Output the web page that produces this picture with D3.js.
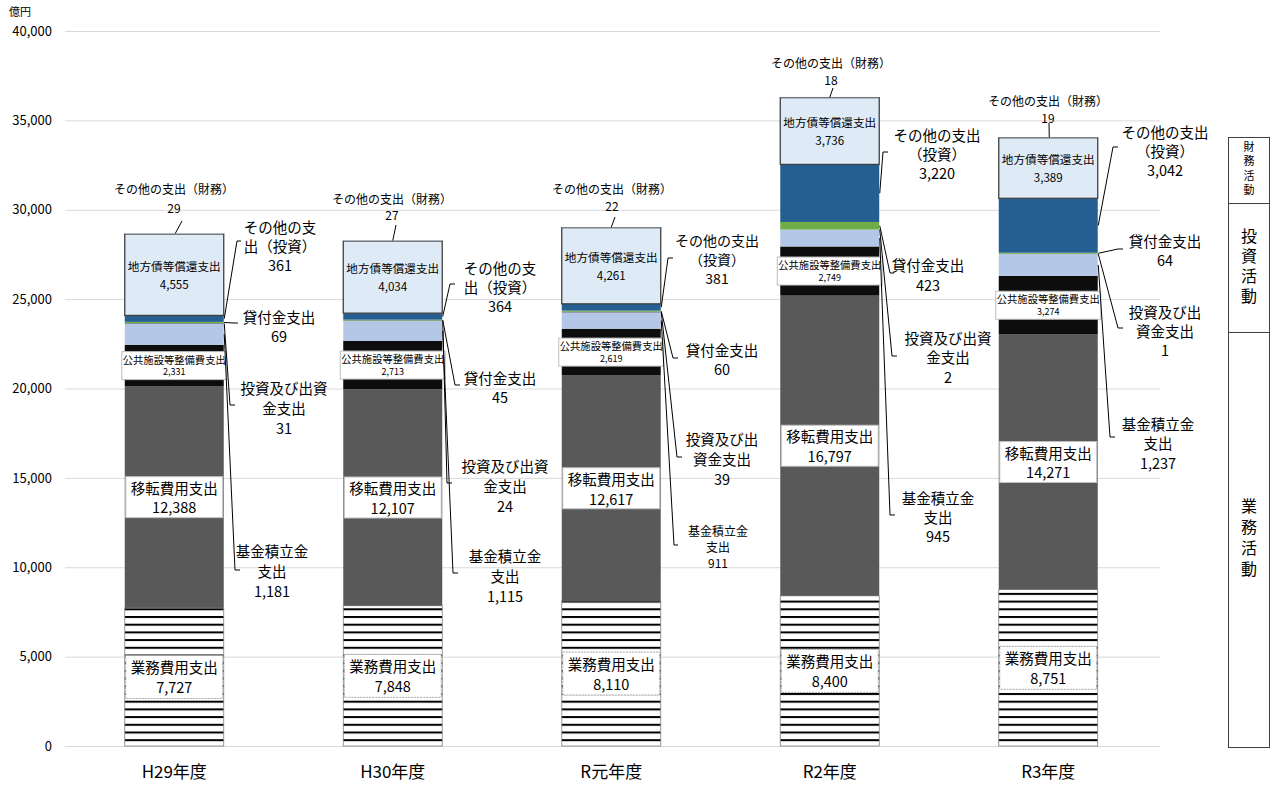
<!DOCTYPE html>
<html>
<head>
<meta charset="utf-8">
<script src="https://cdn.jsdelivr.net/npm/d3@7"></script>
<style>
  body { margin: 0; background: #fff; }
  svg { display: block; }
  text { font-family: "Noto Sans CJK JP", "Noto Sans", sans-serif; fill: #000; }
</style>
</head>
<body>
<svg id="chart" width="1274" height="787"></svg>
<script>
// ---- data (億円) ----
const years = ["H29年度", "H30年度", "R元年度", "R2年度", "R3年度"];
const gyomuHiyo        = [7727, 7848, 8110, 8400, 8751];      // 業務費用支出
const itenHiyo         = [12388, 12107, 12617, 16797, 14271]; // 移転費用支出
const koukyoShisetsu   = [2331, 2713, 2619, 2749, 3274];      // 公共施設等整備費支出
const kikinTsumitate   = [1181, 1115, 911, 945, 1237];        // 基金積立金支出
const toushiShusshi    = [31, 24, 39, 2, 1];                  // 投資及び出資金支出
const kashitsuke       = [69, 45, 60, 423, 64];               // 貸付金支出
const sonotaToushi     = [361, 364, 381, 3220, 3042];         // その他の支出（投資）
const chihousaiShoukan = [4555, 4034, 4261, 3736, 3389];      // 地方債等償還支出
const sonotaZaimu      = [29, 27, 22, 18, 19];                // その他の支出（財務）
const yTicks = [0, 5000, 10000, 15000, 20000, 25000, 30000, 35000, 40000];
const unitLabel = "億円";
const activityGroups = ["財務活動", "投資活動", "業務活動"];

// ---- series (bottom to top) ----
const series = [
  { key: "gyomu",   name: "業務費用支出",         values: gyomuHiyo,        fill: "url(#hatch)" },
  { key: "iten",    name: "移転費用支出",         values: itenHiyo,         fill: "#595959" },
  { key: "koukyo",  name: "公共施設等整備費支出", values: koukyoShisetsu,   fill: "#0d0d0d" },
  { key: "kikin",   name: "基金積立金支出",       values: kikinTsumitate,   fill: "#b4c7e7" },
  { key: "toushi",  name: "投資及び出資金支出",   values: toushiShusshi,    fill: "#404040" },
  { key: "kashi",   name: "貸付金支出",           values: kashitsuke,       fill: "#70ad47" },
  { key: "sonotaT", name: "その他の支出（投資）", values: sonotaToushi,     fill: "#255e91" },
  { key: "chihou",  name: "地方債等償還支出",     values: chihousaiShoukan, fill: "#deebf7" },
  { key: "sonotaZ", name: "その他の支出（財務）", values: sonotaZaimu,      fill: "#deebf7" }
];

const rows = years.map((yr, i) => {
  const r = { year: yr };
  series.forEach(s => { r[s.key] = s.values[i]; });
  return r;
});

const fmt = d3.format(",");
const svg = d3.select("#chart");

// ---- scales ----
const x = d3.scaleBand().domain(years).range([65, 1157.5]).paddingInner(0.547).paddingOuter(0.2735);
const y = d3.scaleLinear().domain([0, 40000]).range([746, 31]);
const bw = x.bandwidth();

// hatch for 業務費用支出
const defs = svg.append("defs");
const pat = defs.append("pattern").attr("id", "hatch")
  .attr("patternUnits", "userSpaceOnUse").attr("width", 8).attr("height", 7.7);
pat.append("rect").attr("width", 8).attr("height", 7.7).attr("fill", "#fff");
pat.append("rect").attr("y", 0).attr("width", 8).attr("height", 2).attr("fill", "#000");

// ---- grid + y axis ----
svg.append("g").selectAll("line").data(yTicks).join("line")
  .attr("x1", 65).attr("x2", 1160)
  .attr("y1", d => y(d) + 0.5).attr("y2", d => y(d) + 0.5)
  .attr("stroke", "#d9d9d9").attr("stroke-width", 1);

const yAxis = d3.axisLeft(y).tickValues(yTicks).tickFormat(fmt).tickSize(0).tickPadding(0);
const yg = svg.append("g").attr("transform", "translate(52,0)").call(yAxis);
yg.select(".domain").remove();
yg.selectAll("text").attr("font-size", 13).style("font-family", "'Noto Sans CJK JP', 'Noto Sans', sans-serif").attr("fill", "#000");

svg.append("text").attr("x", 9).attr("y", 16).attr("font-size", 11).text(unitLabel);

// ---- x axis ----
const xAxis = d3.axisBottom(x).tickSize(0).tickPadding(0);
const xg = svg.append("g").attr("transform", "translate(0,762)").call(xAxis);
xg.select(".domain").remove();
xg.selectAll("text").attr("font-size", 17).attr("dy", "0.95em")
  .style("font-family", "'Noto Sans CJK JP', 'Noto Sans', sans-serif").attr("fill", "#000");

// ---- stacked bars ----
const stack = d3.stack().keys(series.map(s => s.key))(rows);
const layers = svg.append("g").selectAll("g").data(stack).join("g")
  .attr("fill", (d, i) => series[i].fill);

layers.selectAll("rect").data(d => d.map(p => ({ p, key: d.key }))).join("rect")
  .attr("x", d => x(d.p.data.year))
  .attr("width", bw)
  .attr("y", d => y(d.p[1]))
  .attr("height", d => Math.max(0, y(d.p[0]) - y(d.p[1])))
  .attr("stroke", d => d.key === "chihou" ? "#404040" : (d.key === "gyomu" ? "#7f7f7f" : "none"))
  .attr("stroke-width", d => d.key === "chihou" ? 1.3 : 0.8);

const seg = (key, i) => {
  const layer = stack.find(l => l.key === key)[i];
  return { y0: y(layer[0]), y1: y(layer[1]), mid: (y(layer[0]) + y(layer[1])) / 2 };
};

// ---- labels inside the bars ----
const inner = svg.append("g");
function multiline(g, cx, cy, lines, sizes, lh) {
  const n = lines.length;
  lines.forEach((t, k) => {
    g.append("text").attr("x", cx).attr("y", cy + (k - (n - 1) / 2) * lh)
      .attr("text-anchor", "middle").attr("dominant-baseline", "central")
      .attr("font-size", sizes[k]).text(t);
  });
}

years.forEach((yr, i) => {
  const bx = x(yr), cx = bx + bw / 2;

  // 業務費用支出
  let s = seg("gyomu", i);
  inner.append("rect").attr("x", bx + 1).attr("y", s.mid - 21.5).attr("width", bw - 2).attr("height", 43)
    .attr("fill", "#fff").attr("stroke", "#a6a6a6").attr("stroke-dasharray", "2,1");
  multiline(inner, cx, s.mid, [series[0].name, fmt(gyomuHiyo[i])], [14.5, 14.5], 20);

  // 移転費用支出
  s = seg("iten", i);
  inner.append("rect").attr("x", bx + 1).attr("y", s.mid - 20.5).attr("width", bw - 2).attr("height", 41)
    .attr("fill", "#fff").attr("stroke", "#bfbfbf");
  multiline(inner, cx, s.mid, [series[1].name, fmt(itenHiyo[i])], [14.5, 14.5], 19.5);

  // 公共施設等整備費支出
  s = seg("koukyo", i);
  inner.append("rect").attr("x", cx - 52.5).attr("y", s.mid - 14).attr("width", 105).attr("height", 28)
    .attr("fill", "#fff").attr("stroke", "#bfbfbf");
  multiline(inner, cx, s.mid, [series[2].name, fmt(koukyoShisetsu[i])], [10.3, 9], 12.5);

  // 地方債等償還支出
  s = seg("chihou", i);
  multiline(inner, cx, s.mid, [series[7].name, fmt(chihousaiShoukan[i])], [11.6, 11.6], 18);
});

// ---- callout labels with leader lines ----
// per year: label centre x, first-line y, line spacing, font size, name break, leader tick [x1, x2, y]
const callouts = [
  { key: "sonotaT", name: "その他の支出（投資）", values: sonotaToushi, spots: [
    { cx: 280, y: 226, lh: 19, fs: 14.5, brk: 5, tick: [241, 237, 241] },
    { cx: 500, y: 267, lh: 19, fs: 14.5, brk: 5, tick: [455, 450, 284] },
    { cx: 717, y: 240, lh: 19, fs: 14, brk: 6, tick: [673, 668, 258] },
    { cx: 937, y: 134, lh: 19, fs: 14.5, brk: 6, tick: [888, 883, 152] },
    { cx: 1165, y: 131, lh: 19, fs: 14.5, brk: 6, tick: [1118, 1113, 147] } ] },
  { key: "kashi", name: "貸付金支出", values: kashitsuke, spots: [
    { cx: 279, y: 316, lh: 19, fs: 14.5, brk: 5, tick: [238, 234, 323] },
    { cx: 500, y: 377, lh: 19, fs: 14.5, brk: 5, tick: [460, 455, 385] },
    { cx: 722, y: 349, lh: 19, fs: 14.5, brk: 5, tick: [678, 673, 358] },
    { cx: 928, y: 264, lh: 20, fs: 14.5, brk: 5, tick: [894, 890, 273] },
    { cx: 1165, y: 240, lh: 19, fs: 14.5, brk: 5, tick: [1123, 1118, 249] } ] },
  { key: "toushi", name: "投資及び出資金支出", values: toushiShusshi, spots: [
    { cx: 284, y: 387, lh: 20, fs: 14.5, brk: 6, tick: [235, 230, 405] },
    { cx: 505, y: 465, lh: 20, fs: 14.5, brk: 6, tick: [452, 447, 483] },
    { cx: 722, y: 438, lh: 20, fs: 14.5, brk: 5, tick: [682, 677, 457] },
    { cx: 948, y: 337, lh: 19.5, fs: 14.5, brk: 6, tick: [897, 892, 356] },
    { cx: 1165, y: 311, lh: 19, fs: 14.5, brk: 5, tick: [1123, 1118, 328] } ] },
  { key: "kikin", name: "基金積立金支出", values: kikinTsumitate, spots: [
    { cx: 272, y: 550, lh: 20, fs: 14.5, brk: 5, tick: [240, 235, 570] },
    { cx: 505, y: 555, lh: 20, fs: 14.5, brk: 5, tick: [458, 453, 573] },
    { cx: 718, y: 530, lh: 16, fs: 12, brk: 5, tick: [678, 674, 545] },
    { cx: 938, y: 497, lh: 19, fs: 14.5, brk: 5, tick: [895, 890, 515] },
    { cx: 1158, y: 423, lh: 19.5, fs: 14.5, brk: 5, tick: [1115, 1110, 437] } ] }
];

const outer = svg.append("g");
callouts.forEach(c => {
  c.spots.forEach((sp, i) => {
    const lines = [c.name.slice(0, sp.brk), c.name.slice(sp.brk), fmt(c.values[i])].filter(t => t.length);
    lines.forEach((t, k) => {
      outer.append("text").attr("x", sp.cx).attr("y", sp.y + k * sp.lh)
        .attr("text-anchor", "middle").attr("dominant-baseline", "central")
        .attr("font-size", sp.fs).text(t);
    });
    const s = seg(c.key, i);
    const ex = x(years[i]) + bw + 0.5;
    outer.append("path")
      .attr("d", `M${sp.tick[0]},${sp.tick[2]}L${sp.tick[1]},${sp.tick[2]}L${ex},${s.mid}`)
      .attr("fill", "none").attr("stroke", "#000").attr("stroke-width", 1);
  });
});

// その他の支出（財務） above each bar
const zaimuSpots = [
  { cx: 174, y: 188, lh: 19, from: [182, 221], toDx: 1 },
  { cx: 392, y: 198, lh: 16.5, from: [396, 225], toDx: 0 },
  { cx: 612, y: 188, lh: 17, from: [615, 217], toDx: 0 },
  { cx: 831, y: 62, lh: 17, from: [833, 88], toDx: 0 },
  { cx: 1048, y: 100, lh: 17, from: [1049, 123], toDx: 1 }
];
zaimuSpots.forEach((sp, i) => {
  [series[8].name, fmt(sonotaZaimu[i])].forEach((t, k) => {
    outer.append("text").attr("x", sp.cx).attr("y", sp.y + k * sp.lh)
      .attr("text-anchor", "middle").attr("dominant-baseline", "central")
      .attr("font-size", 12).text(t);
  });
  const s = seg("sonotaZ", i);
  const tx = x(years[i]) + bw / 2 + sp.toDx;
  outer.append("path").attr("d", `M${sp.from[0]},${sp.from[1]}L${tx},${s.y1}`)
    .attr("fill", "none").attr("stroke", "#000").attr("stroke-width", 1);
});

// ---- activity bracket on the right (vertical text) ----
const box = svg.append("g");
const bounds = [137, 203, 332, 747];
box.append("rect").attr("x", 1228.5).attr("y", bounds[0] + 0.5).attr("width", 41).attr("height", bounds[3] - bounds[0])
  .attr("fill", "none").attr("stroke", "#404040").attr("stroke-width", 1);
[bounds[1], bounds[2]].forEach(b => {
  box.append("line").attr("x1", 1228.5).attr("x2", 1269.5).attr("y1", b + 0.5).attr("y2", b + 0.5)
    .attr("stroke", "#404040").attr("stroke-width", 1);
});
const groupFont = [11, 16, 16];
const groupGap = [3.5, 4, 5];
activityGroups.forEach((g, k) => {
  const mid = (bounds[k] + bounds[k + 1]) / 2;
  box.append("text")
    .attr("x", 1249).attr("y", mid)
    .style("writing-mode", "vertical-rl")
    .style("letter-spacing", groupGap[k] + "px")
    .attr("text-anchor", "middle")
    .attr("font-size", groupFont[k]).text(g);
});
</script>
</body>
</html>
